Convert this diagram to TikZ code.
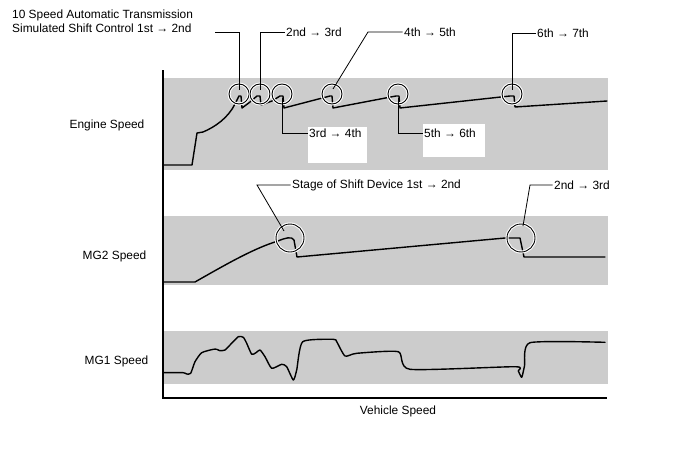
\documentclass[tikz,border=0pt]{standalone}
\usepackage{fontspec}
\setmainfont{Liberation Sans}
\begin{document}
\begin{tikzpicture}[x=1pt,y=-1pt,
  lbl/.style={font=\fontsize{11.9}{13}\selectfont, inner sep=0pt, text=black},
  llbl/.style={lbl, anchor=west, inner xsep=1.5pt},
  band/.style={fill=black!20, draw=none},
  curve/.style={line width=1.4pt, line join=round, line cap=round},
  leader/.style={line width=0.8pt},
  ring/.style={circle, draw=black, line width=0.9pt, inner sep=0pt,
     preaction={draw=white, line width=3pt}},
  whitebox/.style={fill=white, draw=none}]
\useasboundingbox (0,0) rectangle (688,463);
% bands
\fill[band] (163,78) rectangle (608,170);
\fill[band] (163,216) rectangle (608,285);
\fill[band] (163,331) rectangle (608,384);
% white boxes
\fill[whitebox] (308,127) rectangle (367,163);
\fill[whitebox] (423,124) rectangle (485,157);
% axes
\coordinate (top) at (163,70);
\coordinate (origin) at (163,398);
\coordinate (xend) at (607,398);
\draw[line width=1.2pt] (top) -- (origin) -- (xend);
% labels
\node[lbl] (eng) at (107,125.5) {Engine Speed};
\node[lbl] (mg2) at (114.5,256) {MG2 Speed};
\node[lbl] (mg1) at (116.5,361) {MG1 Speed};
\node[lbl] (vs) at (398,411) {Vehicle Speed};
\node[lbl, anchor=west] (t1) at (12,15) {10 Speed Automatic Transmission};
\node[lbl, anchor=west] (t2) at (12,28) {Simulated Shift Control 1st → 2nd};
% engine curve
\draw[curve] (163,165) -- (192,165) -- (197,133) -- (203,132)
  .. controls (215,127) and (228,118) .. (235,104) -- (239,96) -- (241,96) -- (242,108)
  -- (250,102) -- (257,96) -- (260,96) -- (261,105) -- (272,101) -- (280,96) -- (283,96)
  -- (284,108) -- (330,96) -- (332,96) -- (333,108) -- (396,96) -- (399,96) -- (400,108)
  -- (510,96) -- (514,96) -- (515,107) -- (607,101);
% MG2 curve
\draw[curve] (163,282) -- (195,282) .. controls (230,262) and (255,248) .. (278,241)
  .. controls (285,238) and (292,236) .. (294,240) -- (297,257) -- (505,238) -- (520,238)
  -- (524,257) -- (605,257);
% MG1 curve
\draw[curve] plot[smooth, tension=0.35] coordinates {(163.3,372.7) (183.3,372.7) (186.7,374) (190.7,373.3) (195,361.7) (201.7,352.7) (213.3,349.3) (216.7,349.3) (220,350.7) (225,350) (230,345) (238.3,336.7) (243.3,337.3) (246.7,343.3) (251.7,354.3) (256,352.7) (260,350) (265,356.7) (271.7,368.3) (281.7,364.3) (286.7,366.7) (293.3,380) (296.7,370) (302.7,341.7) (333.3,339.3) (336.7,341.7) (345,356) (356.7,353.3) (398.3,351.7) (410,369.3) (515,366.7) (518.3,371) (521.7,377.3) (524.5,366) (530,342.7) (605,342.3)};
% circles
\node[ring, minimum size=20pt] (c1) at (239,94) {};
\node[ring, minimum size=20pt] (c2) at (260,94) {};
\node[ring, minimum size=20pt] (c3) at (282,94) {};
\node[ring, minimum size=20pt] (c4) at (332,94) {};
\node[ring, minimum size=20pt] (c5) at (398,94) {};
\node[ring, minimum size=20pt] (c6) at (512,94) {};
\node[ring, minimum size=28pt] (m1) at (290,238) {};
\node[ring, minimum size=28pt] (m2) at (521,238) {};
% leader labels
\node[llbl] (l23) at (284.5,32) {2nd → 3rd};
\node[llbl] (l45) at (402.5,32) {4th → 5th};
\node[llbl] (l67) at (535.5,33) {6th → 7th};
\node[llbl] (l34) at (307.5,133) {3rd → 4th};
\node[llbl] (l56) at (422.5,133) {5th → 6th};
\node[llbl] (ls) at (290.5,185) {Stage of Shift Device 1st → 2nd};
\node[llbl] (lm23) at (552.5,185) {2nd → 3rd};
% leaders
\coordinate (e1) at (239,90);
\coordinate (e2) at (260,90);
\coordinate (e3) at (282,98);
\coordinate (e4) at (333,89);
\coordinate (e5) at (398,98);
\coordinate (e6) at (512,90);
\coordinate (em1) at (284,231);
\coordinate (em2) at (523,226);
\draw[leader] (215,32) -| (e1);
\draw[leader] (l23.west) -| (e2);
\draw[leader] (l45.west) -- (368,32) -- (e4);
\draw[leader] (l67.west) -| (e6);
\draw[leader] (e3) |- (l34.west);
\draw[leader] (e5) |- (l56.west);
\draw[leader] (ls.west) -- (257,185) -- (em1);
\draw[leader] (lm23.west) -- (530,185) -- (em2);
\end{tikzpicture}
\end{document}
